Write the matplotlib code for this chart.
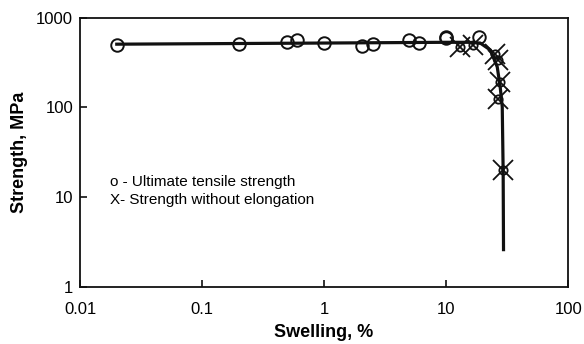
import matplotlib
matplotlib.use("Agg")
import matplotlib.pyplot as plt

plt.rcParams['font.family'] = ['Liberation Sans', 'DejaVu Sans']

# Ultimate tensile strength (circles)
uts_swelling = [0.02, 0.2, 0.5, 0.6, 1, 2.05, 2.5, 5, 6, 10, 10, 18.5]
uts_strength = [495, 508, 534, 562, 521, 482, 508, 562, 521, 592, 610, 600]

# Strength without elongation (crosses)
sw_swelling = [13, 16.5, 25, 26.5, 27.7, 26.7, 29.3]
sw_strength = [470, 500, 390, 340, 190, 125, 20]

# Fitted trend line
fit_swelling = [0.02, 1, 10, 15, 19, 23, 26.2, 27.7, 28.8, 29.3, 29.5]
fit_strength = [505, 520, 530, 530, 520, 435, 282, 169, 101, 19, 2.6]

fig = plt.figure(figsize=(5.84, 3.44), dpi=100)
ax = fig.add_axes([0.137, 0.166, 0.836, 0.783])

ax.plot(fit_swelling, fit_strength, color='#111111', lw=2.3, zorder=2)
ax.plot(uts_swelling, uts_strength, 'o', ms=9, mfc='none', mec='#111111', mew=1.4, zorder=3)
ax.plot(sw_swelling, sw_strength, 'x', ms=14, mec='#111111', mew=1.3, zorder=3)
ax.plot(sw_swelling, sw_strength, 'o', ms=6, mfc='none', mec='#111111', mew=1.3, zorder=3)

ax.set_xscale('log')
ax.set_yscale('log')
ax.set_xlim(0.01, 100)
ax.set_ylim(1, 1000)
ax.set_xticks([0.01, 0.1, 1, 10, 100])
ax.set_xticklabels(['0.01', '0.1', '1', '10', '100'])
ax.set_yticks([1, 10, 100, 1000])
ax.set_yticklabels(['1', '10', '100', '1000'])
ax.minorticks_off()
ax.tick_params(direction='in', length=5, width=1.2, labelsize=12, pad=5, color='#111111')
ax.tick_params(axis='x', pad=11)
for s in ax.spines.values():
    s.set_linewidth(1.3)
    s.set_color('#111111')

ax.set_xlabel('Swelling, %', fontsize=13, fontweight='bold', labelpad=5)
ax.set_ylabel('Strength, MPa', fontsize=13, fontweight='bold', labelpad=6)

ax.text(0.061, 0.356, 'o - Ultimate tensile strength\nX- Strength without elongation',
        transform=ax.transAxes, fontsize=11, va='center', ha='left', linespacing=1.45)

fig.savefig('out.png', dpi=100)
